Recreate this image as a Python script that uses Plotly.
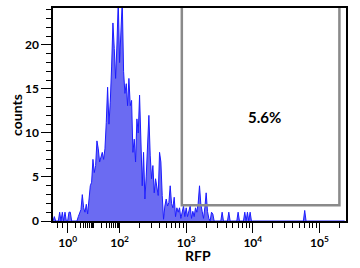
import plotly.graph_objects as go
import math

# ---- data: histogram counts per display channel (50 channels per decade) ----
counts_low = [
    0, 0.5, 0, 0, 0, 1, 0, 1, 0, 1,
    0, 0, 1, 1, 0, 0, 0, 0, 0, 0.5,
    1, 1.3, 3, 1.5, 1, 1.9, 0.8, 2.9, 4, 4.4,
    7, 5.5, 6.3, 9.1, 8.2, 6.7, 7.2, 7.8, 7, 8.2,
    11.2, 15.2, 11, 13.5, 17.5, 22.5, 19.6, 16.2, 20, 25,
    18, 21.7, 25, 17, 14.5, 15.6, 13.1, 16.2, 13.1, 13.7,
    7.8, 9.3, 6.7, 11.6, 10, 14.3, 9.3, 4, 7.8, 2.5,
    5.1, 9, 12, 7.4, 4.8, 6.3, 3.2, 4.8, 4, 2.9,
    7.8, 6.7, 2.9, 0.2, 1.7, 2.5, 1.7, 2.1, 4, 2,
    1.5, 2.7, 0.5, 1.5, 1, 1.5, 0.3, 1, 1.7, 0.5,
    1.5, 0.5, 1.2, 1.7, 0.3, 1.1, 0.5, 1.5, 1, 2,
    4, 1.9, 1.1, 0.3, 1.5, 3.2, 1.1, 0.3, 0, 1,
    0.8, 0, 0, 0, 0, 0, 0, 1, 0, 0,
    0, 0, 1, 0, 0, 0, 0, 0, 0, 1,
    0, 0, 0, 0, 1, 0, 1, 0, 1, 0,
]
extra_channels = [189]
extra_counts = [1.2]
n_channels = 220

decade_labels = ["10<sup>0</sup>", "10<sup>2</sup>", "10<sup>3</sup>", "10<sup>4</sup>", "10<sup>5</sup>"]
decade_values = [1, 100, 1000, 10000, 100000]
gate_low_rfp = 860
gate_high_rfp = 200000
gate_min_count = 1.8
gate_label = "5.6%"
x_title = "RFP"
y_title = "counts"


def chan(v):
    """biexponential-like display transform: RFP value -> display channel"""
    if v >= 100:
        return 50 * math.log10(v) - 50
    if v >= 1:
        return 11 + 19.5 * math.log10(v)
    return 11 - (1 - v) * 4


counts = [0.0] * n_channels
for i, c in enumerate(counts_low):
    counts[i] = c
for ch, c in zip(extra_channels, extra_counts):
    counts[ch] = c
channels = list(range(n_channels))

minor_vals = [-1, 0, 10]
for m in range(2, 10):
    minor_vals.append(m)
    minor_vals.append(m * 10)
for dec in [100, 1000, 10000, 100000]:
    for m in range(2, 10):
        if m * dec <= 200000:
            minor_vals.append(m * dec)
minor_pos = sorted(chan(v) for v in minor_vals)

fig = go.Figure()
fig.add_trace(go.Scatter(
    x=channels, y=counts, mode="lines",
    line=dict(color="#1c1cff", width=1),
    fill="tozeroy", fillcolor="#6b6bf2",
    hoverinfo="skip", showlegend=False,
))

ymax = 24.2
fig.add_shape(type="rect", xref="x", yref="y",
              x0=chan(gate_low_rfp), x1=chan(gate_high_rfp),
              y0=gate_min_count, y1=ymax + 0.5,
              line=dict(color="#8a8a8a", width=2.5))
fig.add_annotation(x=159, y=11.8, xref="x", yref="y", text=gate_label,
                   showarrow=False,
                   font=dict(family="Lato", size=15, color="black", weight="bold"))

font = dict(family="Lato", size=12, color="black", weight="bold")
title_font = dict(family="Lato", size=14, color="black", weight="bold")
fig.add_annotation(x=-0.125, y=0.5, xref="paper", yref="paper", text=y_title,
                   textangle=-90, showarrow=False, font=title_font,
                   xanchor="center", yanchor="middle")
fig.add_annotation(x=0.495, y=-0.163, xref="paper", yref="paper", text=x_title,
                   showarrow=False, font=title_font,
                   xanchor="center", yanchor="middle")

fig.update_layout(
    width=360, height=268,
    margin=dict(l=53, r=14, t=8, b=47),
    paper_bgcolor="white", plot_bgcolor="white",
    xaxis=dict(
        range=[0, 220], showgrid=False, zeroline=False, automargin=False,
        showline=True, linecolor="black", linewidth=1.5, mirror=True,
        tickmode="array", tickvals=[chan(v) for v in decade_values],
        ticktext=decade_labels, ticks="outside", ticklen=10, tickwidth=1.2,
        tickcolor="black", tickfont=font,
        minor=dict(tickmode="array", tickvals=minor_pos, ticks="outside",
                   ticklen=5, tickwidth=1, tickcolor="black"),
    ),
    yaxis=dict(
        range=[0, ymax], showgrid=False, zeroline=False, automargin=False,
        showline=True, linecolor="black", linewidth=1.5, mirror=True,
        tickmode="linear", tick0=0, dtick=5, ticks="outside", ticklen=10,
        tickwidth=1.2, tickcolor="black", tickfont=font,
        minor=dict(dtick=1, ticks="outside", ticklen=5, tickwidth=1, tickcolor="black"),
    ),
)

fig.write_html("out.html", config={"displayModeBar": False},
               post_script="document.body.style.margin='0';")
